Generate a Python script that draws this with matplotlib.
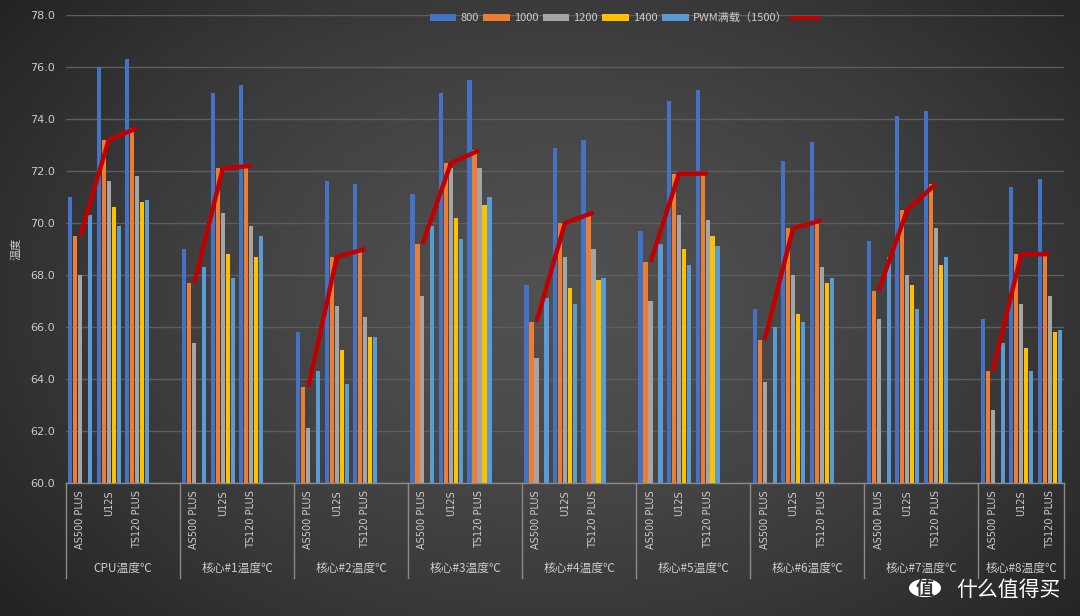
import numpy as np
import matplotlib
matplotlib.use("Agg")
import matplotlib.pyplot as plt
from matplotlib.patches import Patch, Circle
from matplotlib.lines import Line2D
import matplotlib.transforms as mtransforms

plt.rcParams['font.family'] = ['Noto Sans CJK SC', 'DejaVu Sans']

groups = ["CPU温度℃", "核心#1温度℃", "核心#2温度℃", "核心#3温度℃", "核心#4温度℃",
          "核心#5温度℃", "核心#6温度℃", "核心#7温度℃", "核心#8温度℃"]
coolers = ["AS500 PLUS", "U12S", "TS120 PLUS"]
series_names = ["800", "1000", "1200", "1400", "PWM满载（1500）"]
nan = np.nan
s800 = [71.0, 76.0, 76.3, 69.0, 75.0, 75.3, 65.8, 71.6, 71.5, 71.1, 75.0, 75.5, 67.6, 72.9, 73.2,
        69.7, 74.7, 75.1, 66.7, 72.4, 73.1, 69.3, 74.1, 74.3, 66.3, 71.4, 71.7]
s1000 = [69.5, 73.2, 73.65, 67.7, 72.1, 72.2, 63.7, 68.7, 69.0, 69.2, 72.3, 72.8, 66.2, 70.0, 70.4,
         68.5, 71.9, 71.9, 65.5, 69.8, 70.1, 67.4, 70.5, 71.5, 64.3, 68.8, 68.8]
s1200 = [68.0, 71.6, 71.8, 65.4, 70.4, 69.9, 62.1, 66.8, 66.4, 67.2, 72.1, 72.1, 64.8, 68.7, 69.0,
         67.0, 70.3, 70.1, 63.9, 68.0, 68.3, 66.3, 68.0, 69.8, 62.8, 66.9, 67.2]
s1400 = [nan, 70.6, 70.8, nan, 68.8, 68.7, nan, 65.1, 65.6, nan, 70.2, 70.7, nan, 67.5, 67.8,
         nan, 69.0, 69.5, nan, 66.5, 67.7, nan, 67.6, 68.4, nan, 65.2, 65.8]
spwm = [70.3, 69.9, 70.9, 68.3, 67.9, 69.5, 64.3, 63.8, 65.6, 69.9, 69.4, 71.0, 67.1, 66.9, 67.9,
        69.2, 68.4, 69.1, 66.0, 66.2, 67.9, 68.7, 66.7, 68.7, 65.4, 64.3, 65.9]
trend = s1000  # red line follows the 1000 rpm series

series = [s800, s1000, s1200, s1400, spwm]
colors = ["#4472C4", "#ED7D31", "#A5A5A5", "#FFC000", "#5B9BD5"]
line_color = "#C00000"
text_color = "#cccccc"

fig = plt.figure(figsize=(10.8, 6.16), dpi=100)

# background radial gradient
bg = fig.add_axes([0, 0, 1, 1], zorder=-10)
yy, xx = np.mgrid[0:616, 0:1080]
r = np.sqrt(((xx - 560) / 700.0) ** 2 + ((yy - 300) / 480.0) ** 2)
r = np.clip(r, 0, 1)
val = 0.315 - 0.175 * r ** 1.5
img = np.dstack([val, val, val])
bg.imshow(img, aspect='auto', extent=[0, 1, 0, 1])
bg.axis('off')

ax = fig.add_axes([66 / 1080, 1 - 483 / 616, (1064 - 66) / 1080, 468 / 616])
ax.set_facecolor('none')

n_sub = len(coolers)
x = np.array([4 * g + s for g in range(len(groups)) for s in range(n_sub)], dtype=float)

step = 0.175
width = 0.145
for i, (vals, c) in enumerate(zip(series, colors)):
    v = np.array(vals, dtype=float)
    ax.bar(x + (i - 2) * step, v - 60, bottom=60, width=width, color=c, linewidth=0, zorder=3)

tr = np.array(trend, dtype=float)
for g in range(len(groups)):
    sl = slice(3 * g, 3 * g + 3)
    ax.plot(x[sl], tr[sl], color=line_color, lw=3.2, solid_capstyle='butt', zorder=5)

ax.set_xlim(-0.5, 34.5)
ax.set_ylim(60, 78)
ax.set_yticks(np.arange(60, 78.1, 2))
ax.set_yticklabels([f"{v:.1f}" for v in np.arange(60, 78.1, 2)], color=text_color, fontsize=8,
                   family=['DejaVu Sans'])
ax.tick_params(axis='y', length=0, pad=8)
ax.set_xticks([])
ax.grid(axis='y', color='#5e5e5e', lw=1.0, zorder=0)
for s in ['left', 'right', 'top']:
    ax.spines[s].set_visible(False)
ax.spines['bottom'].set_color('#8a8a8a')
ax.spines['bottom'].set_linewidth(1.0)

ax.set_ylabel("温度", color=text_color, fontsize=8, labelpad=6)

trans = mtransforms.blended_transform_factory(ax.transData, ax.transAxes)
for xi, lab in zip(x, coolers * len(groups)):
    ax.text(xi, -0.015, lab, rotation=90, ha='center', va='top', transform=trans,
            color=text_color, fontsize=7, family=['DejaVu Sans'])
for g, name in enumerate(groups):
    left = 4 * g - 0.5
    right = min(4 * g + 3.5, 34.5)
    ax.text((left + right) / 2, -0.182, name, ha='center', va='center', transform=trans,
            color=text_color, fontsize=8.5)
bounds = [4 * g - 0.5 for g in range(len(groups))] + [34.5]
for b in bounds:
    ax.plot([b, b], [0, -0.203], transform=trans, color='#8a8a8a', lw=1.0, clip_on=False)

handles = [Patch(facecolor=c, edgecolor='none') for c in colors] + \
          [Line2D([], [], color=line_color, lw=3)]
labels = series_names + [""]
leg = fig.legend(handles, labels, loc='center', bbox_to_anchor=(626 / 1080, 1 - 18 / 616),
                 ncol=6, frameon=False, fontsize=8, handlelength=2.4, handleheight=0.6,
                 handletextpad=0.35, columnspacing=0.4, labelcolor=text_color)

# watermark
fig.patches.append(Circle((925 / 1080, 1 - 588 / 616), 16 / 1080, transform=fig.transFigure,
                          facecolor='white', edgecolor='none'))
fig.text(925 / 1080, 1 - 588 / 616, "值", ha='center', va='center', color='#333333',
         fontsize=13, fontweight='bold')
fig.text(1008 / 1080, 1 - 590 / 616, "什么值得买", ha='center', va='center', color='white',
         fontsize=15)

fig.savefig("out.png", dpi=100)
